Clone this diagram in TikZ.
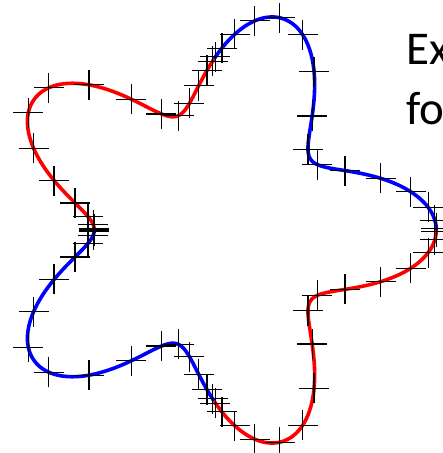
\documentclass[tikz,border=0pt]{standalone}
\usepackage{fontspec}
\setmainfont{Carlito}
\begin{document}
\begin{tikzpicture}[x=1pt,y=1pt,
  curveline/.style={line width=3.6pt},
  crossline/.style={line width=1.2pt, black},
  bigtext/.style={anchor=base west, inner sep=0pt, font=\fontsize{47}{58}\selectfont}]
\useasboundingbox (0,0) rectangle (443,453);
\clip (0,0) rectangle (443,453);
\def\cx{214}\def\cy{223}\def\ra{171}
% curve r = 1 + 0.3 cos(5 theta), four coloured panels
\foreach \s/\c in {0/blue,90/red,180/blue,270/red}{
  \pgfmathsetmacro\segend{\s+90}
  \draw[curveline,\c] plot[domain=\s:\segend, samples=150, smooth]
    ({\cx+\ra*(1+0.3*cos(5*\x))*cos(\x)},{\cy+\ra*(1+0.3*cos(5*\x))*sin(\x)});
}
% Gauss-Legendre nodes on each panel
\foreach \s in {0,90,180,270}{
  \foreach \g in {-0.9894009350,-0.9445750231,-0.8656312024,-0.7554044084,-0.6178762444,-0.4580167777,-0.2816035508,-0.0950125098,0.0950125098,0.2816035508,0.4580167777,0.6178762444,0.7554044084,0.8656312024,0.9445750231,0.9894009350}{
    \pgfmathsetmacro\tt{\s+45*(1+\g)}
    \pgfmathsetmacro\rr{\ra*(1+0.3*cos(5*\tt))}
    \coordinate (p) at ({\cx+\rr*cos(\tt)},{\cy+\rr*sin(\tt)});
    \draw[crossline] ([xshift=-15pt]p) -- ([xshift=15pt]p)
                     ([yshift=-15pt]p) -- ([yshift=15pt]p);
  }
}
\node[bigtext] (t1) at (406,388) {Ex};
\node[bigtext] (t2) at (406,328) {fo};
\end{tikzpicture}
\end{document}
